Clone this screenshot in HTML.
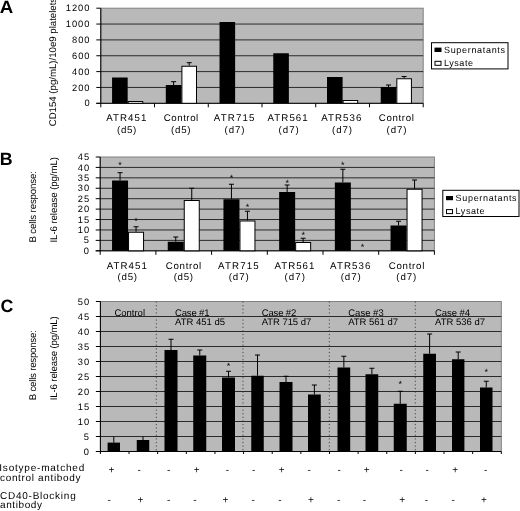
<!DOCTYPE html>
<html><head><meta charset="utf-8"><title>Figure</title>
<style>
html,body{margin:0;padding:0;background:#fff;}
svg{display:block;will-change:transform;text-rendering:geometricPrecision;font-family:"Liberation Sans", Arial, sans-serif;fill:#000;}
</style></head>
<body>
<svg width="520" height="511" viewBox="0 0 520 511">
<rect x="0" y="0" width="520" height="511" fill="#fff"/>
<rect x="100.80" y="8.20" width="322.40" height="95.10" fill="#b9b9b9" stroke="#808080" stroke-width="1"/>
<line x1="100.80" y1="87.45" x2="423.20" y2="87.45" stroke="#111" stroke-width="0.85"/>
<line x1="100.80" y1="71.60" x2="423.20" y2="71.60" stroke="#111" stroke-width="0.85"/>
<line x1="100.80" y1="55.75" x2="423.20" y2="55.75" stroke="#111" stroke-width="0.85"/>
<line x1="100.80" y1="39.90" x2="423.20" y2="39.90" stroke="#111" stroke-width="0.85"/>
<line x1="100.80" y1="24.05" x2="423.20" y2="24.05" stroke="#111" stroke-width="0.85"/>
<line x1="96.30" y1="103.30" x2="100.80" y2="103.30" stroke="#000" stroke-width="1"/>
<line x1="96.30" y1="87.45" x2="100.80" y2="87.45" stroke="#000" stroke-width="1"/>
<line x1="96.30" y1="71.60" x2="100.80" y2="71.60" stroke="#000" stroke-width="1"/>
<line x1="96.30" y1="55.75" x2="100.80" y2="55.75" stroke="#000" stroke-width="1"/>
<line x1="96.30" y1="39.90" x2="100.80" y2="39.90" stroke="#000" stroke-width="1"/>
<line x1="96.30" y1="24.05" x2="100.80" y2="24.05" stroke="#000" stroke-width="1"/>
<line x1="96.30" y1="8.20" x2="100.80" y2="8.20" stroke="#000" stroke-width="1"/>
<line x1="100.80" y1="8.20" x2="100.80" y2="103.30" stroke="#000" stroke-width="1"/>
<line x1="96.30" y1="103.30" x2="423.20" y2="103.30" stroke="#000" stroke-width="1"/>
<text x="84.40" y="106.40" font-size="9.3" text-anchor="start">0</text>
<text x="72.10" y="90.55" font-size="9.3" text-anchor="start" textLength="17.30" lengthAdjust="spacing">200</text>
<text x="72.10" y="74.70" font-size="9.3" text-anchor="start" textLength="17.30" lengthAdjust="spacing">400</text>
<text x="72.10" y="58.85" font-size="9.3" text-anchor="start" textLength="17.30" lengthAdjust="spacing">600</text>
<text x="72.10" y="43.00" font-size="9.3" text-anchor="start" textLength="17.30" lengthAdjust="spacing">800</text>
<text x="65.80" y="27.15" font-size="9.3" text-anchor="start" textLength="23.60" lengthAdjust="spacing">1000</text>
<text x="65.80" y="11.30" font-size="9.3" text-anchor="start" textLength="23.60" lengthAdjust="spacing">1200</text>
<line x1="100.80" y1="103.30" x2="100.80" y2="107.30" stroke="#000" stroke-width="1"/>
<line x1="154.53" y1="103.30" x2="154.53" y2="107.30" stroke="#000" stroke-width="1"/>
<line x1="208.27" y1="103.30" x2="208.27" y2="107.30" stroke="#000" stroke-width="1"/>
<line x1="262.00" y1="103.30" x2="262.00" y2="107.30" stroke="#000" stroke-width="1"/>
<line x1="315.73" y1="103.30" x2="315.73" y2="107.30" stroke="#000" stroke-width="1"/>
<line x1="369.47" y1="103.30" x2="369.47" y2="107.30" stroke="#000" stroke-width="1"/>
<line x1="423.20" y1="103.30" x2="423.20" y2="107.30" stroke="#000" stroke-width="1"/>
<rect x="112.07" y="77.50" width="15.60" height="25.80" fill="#000"/>
<rect x="128.17" y="101.50" width="14.60" height="1.80" fill="#fff" stroke="#000" stroke-width="1"/>
<line x1="173.60" y1="81.70" x2="173.60" y2="85.00" stroke="#000" stroke-width="1"/>
<line x1="171.10" y1="81.70" x2="176.10" y2="81.70" stroke="#000" stroke-width="1"/>
<rect x="165.80" y="85.00" width="15.60" height="18.30" fill="#000"/>
<line x1="189.20" y1="62.70" x2="189.20" y2="65.75" stroke="#000" stroke-width="1"/>
<line x1="186.70" y1="62.70" x2="191.70" y2="62.70" stroke="#000" stroke-width="1"/>
<rect x="181.90" y="66.25" width="14.60" height="37.05" fill="#fff" stroke="#000" stroke-width="1"/>
<rect x="219.53" y="22.00" width="15.60" height="81.30" fill="#000"/>
<rect x="273.27" y="53.25" width="15.60" height="50.05" fill="#000"/>
<rect x="327.00" y="77.00" width="15.60" height="26.30" fill="#000"/>
<rect x="343.10" y="100.50" width="14.60" height="2.80" fill="#fff" stroke="#000" stroke-width="1"/>
<line x1="388.53" y1="85.00" x2="388.53" y2="87.00" stroke="#000" stroke-width="1"/>
<line x1="386.03" y1="85.00" x2="391.03" y2="85.00" stroke="#000" stroke-width="1"/>
<rect x="380.73" y="87.00" width="15.60" height="16.30" fill="#000"/>
<line x1="404.13" y1="76.50" x2="404.13" y2="78.25" stroke="#000" stroke-width="1"/>
<line x1="401.63" y1="76.50" x2="406.63" y2="76.50" stroke="#000" stroke-width="1"/>
<rect x="396.83" y="78.75" width="14.60" height="24.55" fill="#fff" stroke="#000" stroke-width="1"/>
<text x="106.30" y="121.20" font-size="9.7" text-anchor="start" textLength="40.00" lengthAdjust="spacing">ATR451</text>
<text x="117.00" y="132.90" font-size="9.7" text-anchor="start" textLength="19.30" lengthAdjust="spacing">(d5)</text>
<text x="163.80" y="121.20" font-size="9.7" text-anchor="start" textLength="34.40" lengthAdjust="spacing">Control</text>
<text x="171.00" y="132.90" font-size="9.7" text-anchor="start" textLength="19.50" lengthAdjust="spacing">(d5)</text>
<text x="213.80" y="121.20" font-size="9.7" text-anchor="start" textLength="40.70" lengthAdjust="spacing">ATR715</text>
<text x="224.50" y="132.90" font-size="9.7" text-anchor="start" textLength="20.00" lengthAdjust="spacing">(d7)</text>
<text x="267.50" y="121.20" font-size="9.7" text-anchor="start" textLength="40.20" lengthAdjust="spacing">ATR561</text>
<text x="278.60" y="132.90" font-size="9.7" text-anchor="start" textLength="20.10" lengthAdjust="spacing">(d7)</text>
<text x="321.30" y="121.20" font-size="9.7" text-anchor="start" textLength="40.00" lengthAdjust="spacing">ATR536</text>
<text x="332.00" y="132.90" font-size="9.7" text-anchor="start" textLength="20.00" lengthAdjust="spacing">(d7)</text>
<text x="378.80" y="121.20" font-size="9.7" text-anchor="start" textLength="35.00" lengthAdjust="spacing">Control</text>
<text x="386.50" y="132.90" font-size="9.7" text-anchor="start" textLength="20.00" lengthAdjust="spacing">(d7)</text>
<rect x="431.50" y="42.70" width="76.50" height="26.20" fill="#fff" stroke="#000" stroke-width="1"/>
<rect x="434.50" y="47.60" width="7.00" height="4.40" fill="#000"/>
<rect x="435.00" y="61.30" width="6.00" height="4.00" fill="#fff" stroke="#000" stroke-width="1"/>
<text x="444.00" y="52.80" font-size="9.0" text-anchor="start" textLength="61.00" lengthAdjust="spacing">Supernatants</text>
<text x="444.00" y="65.70" font-size="9.0" text-anchor="start" textLength="29.00" lengthAdjust="spacing">Lysate</text>
<text transform="translate(55.80,126.30) rotate(-90)" font-size="9.7" textLength="128.50" lengthAdjust="spacing">CD154 (pg/mL)/10e9 platelets</text>
<text x="-0.20" y="12.60" font-size="17.8" text-anchor="start" textLength="13.50" lengthAdjust="spacingAndGlyphs" font-weight="bold">A</text>
<rect x="100.20" y="157.00" width="334.20" height="93.80" fill="#b9b9b9" stroke="#808080" stroke-width="1"/>
<line x1="100.20" y1="240.38" x2="434.40" y2="240.38" stroke="#111" stroke-width="0.85"/>
<line x1="100.20" y1="229.96" x2="434.40" y2="229.96" stroke="#111" stroke-width="0.85"/>
<line x1="100.20" y1="219.53" x2="434.40" y2="219.53" stroke="#111" stroke-width="0.85"/>
<line x1="100.20" y1="209.11" x2="434.40" y2="209.11" stroke="#111" stroke-width="0.85"/>
<line x1="100.20" y1="198.69" x2="434.40" y2="198.69" stroke="#111" stroke-width="0.85"/>
<line x1="100.20" y1="188.27" x2="434.40" y2="188.27" stroke="#111" stroke-width="0.85"/>
<line x1="100.20" y1="177.84" x2="434.40" y2="177.84" stroke="#111" stroke-width="0.85"/>
<line x1="100.20" y1="167.42" x2="434.40" y2="167.42" stroke="#111" stroke-width="0.85"/>
<line x1="95.70" y1="250.80" x2="100.20" y2="250.80" stroke="#000" stroke-width="1"/>
<line x1="95.70" y1="240.38" x2="100.20" y2="240.38" stroke="#000" stroke-width="1"/>
<line x1="95.70" y1="229.96" x2="100.20" y2="229.96" stroke="#000" stroke-width="1"/>
<line x1="95.70" y1="219.53" x2="100.20" y2="219.53" stroke="#000" stroke-width="1"/>
<line x1="95.70" y1="209.11" x2="100.20" y2="209.11" stroke="#000" stroke-width="1"/>
<line x1="95.70" y1="198.69" x2="100.20" y2="198.69" stroke="#000" stroke-width="1"/>
<line x1="95.70" y1="188.27" x2="100.20" y2="188.27" stroke="#000" stroke-width="1"/>
<line x1="95.70" y1="177.84" x2="100.20" y2="177.84" stroke="#000" stroke-width="1"/>
<line x1="95.70" y1="167.42" x2="100.20" y2="167.42" stroke="#000" stroke-width="1"/>
<line x1="95.70" y1="157.00" x2="100.20" y2="157.00" stroke="#000" stroke-width="1"/>
<line x1="100.20" y1="157.00" x2="100.20" y2="250.80" stroke="#000" stroke-width="1"/>
<line x1="95.70" y1="250.80" x2="434.40" y2="250.80" stroke="#000" stroke-width="1"/>
<text x="83.70" y="253.90" font-size="9.3" text-anchor="start">0</text>
<text x="83.70" y="243.48" font-size="9.3" text-anchor="start">5</text>
<text x="77.80" y="233.06" font-size="9.3" text-anchor="start" textLength="11.40" lengthAdjust="spacing">10</text>
<text x="77.80" y="222.63" font-size="9.3" text-anchor="start" textLength="11.40" lengthAdjust="spacing">15</text>
<text x="77.80" y="212.21" font-size="9.3" text-anchor="start" textLength="11.40" lengthAdjust="spacing">20</text>
<text x="77.80" y="201.79" font-size="9.3" text-anchor="start" textLength="11.40" lengthAdjust="spacing">25</text>
<text x="77.80" y="191.37" font-size="9.3" text-anchor="start" textLength="11.40" lengthAdjust="spacing">30</text>
<text x="77.80" y="180.94" font-size="9.3" text-anchor="start" textLength="11.40" lengthAdjust="spacing">35</text>
<text x="77.80" y="170.52" font-size="9.3" text-anchor="start" textLength="11.40" lengthAdjust="spacing">40</text>
<text x="77.80" y="160.10" font-size="9.3" text-anchor="start" textLength="11.40" lengthAdjust="spacing">45</text>
<line x1="100.20" y1="250.80" x2="100.20" y2="254.80" stroke="#000" stroke-width="1"/>
<line x1="155.90" y1="250.80" x2="155.90" y2="254.80" stroke="#000" stroke-width="1"/>
<line x1="211.60" y1="250.80" x2="211.60" y2="254.80" stroke="#000" stroke-width="1"/>
<line x1="267.30" y1="250.80" x2="267.30" y2="254.80" stroke="#000" stroke-width="1"/>
<line x1="323.00" y1="250.80" x2="323.00" y2="254.80" stroke="#000" stroke-width="1"/>
<line x1="378.70" y1="250.80" x2="378.70" y2="254.80" stroke="#000" stroke-width="1"/>
<line x1="434.40" y1="250.80" x2="434.40" y2="254.80" stroke="#000" stroke-width="1"/>
<line x1="120.05" y1="172.70" x2="120.05" y2="180.50" stroke="#000" stroke-width="1"/>
<line x1="117.55" y1="172.70" x2="122.55" y2="172.70" stroke="#000" stroke-width="1"/>
<rect x="112.05" y="180.50" width="16.00" height="70.30" fill="#000"/>
<line x1="136.05" y1="226.75" x2="136.05" y2="231.75" stroke="#000" stroke-width="1"/>
<line x1="133.55" y1="226.75" x2="138.55" y2="226.75" stroke="#000" stroke-width="1"/>
<rect x="128.55" y="232.25" width="15.00" height="18.55" fill="#fff" stroke="#000" stroke-width="1"/>
<text x="120.05" y="167.75" font-size="9" text-anchor="middle">*</text>
<text x="136.05" y="223.55" font-size="9" text-anchor="middle">*</text>
<line x1="175.75" y1="237.00" x2="175.75" y2="241.75" stroke="#000" stroke-width="1"/>
<line x1="173.25" y1="237.00" x2="178.25" y2="237.00" stroke="#000" stroke-width="1"/>
<rect x="167.75" y="241.75" width="16.00" height="9.05" fill="#000"/>
<line x1="191.75" y1="188.25" x2="191.75" y2="200.00" stroke="#000" stroke-width="1"/>
<line x1="189.25" y1="188.25" x2="194.25" y2="188.25" stroke="#000" stroke-width="1"/>
<rect x="184.25" y="200.50" width="15.00" height="50.30" fill="#fff" stroke="#000" stroke-width="1"/>
<line x1="231.45" y1="184.25" x2="231.45" y2="199.25" stroke="#000" stroke-width="1"/>
<line x1="228.95" y1="184.25" x2="233.95" y2="184.25" stroke="#000" stroke-width="1"/>
<rect x="223.45" y="199.25" width="16.00" height="51.55" fill="#000"/>
<line x1="247.45" y1="211.25" x2="247.45" y2="220.50" stroke="#000" stroke-width="1"/>
<line x1="244.95" y1="211.25" x2="249.95" y2="211.25" stroke="#000" stroke-width="1"/>
<rect x="239.95" y="221.00" width="15.00" height="29.80" fill="#fff" stroke="#000" stroke-width="1"/>
<text x="231.45" y="180.75" font-size="9" text-anchor="middle">*</text>
<text x="247.45" y="209.75" font-size="9" text-anchor="middle">*</text>
<line x1="287.15" y1="185.00" x2="287.15" y2="192.00" stroke="#000" stroke-width="1"/>
<line x1="284.65" y1="185.00" x2="289.65" y2="185.00" stroke="#000" stroke-width="1"/>
<rect x="279.15" y="192.00" width="16.00" height="58.80" fill="#000"/>
<line x1="303.15" y1="238.25" x2="303.15" y2="242.00" stroke="#000" stroke-width="1"/>
<line x1="300.65" y1="238.25" x2="305.65" y2="238.25" stroke="#000" stroke-width="1"/>
<rect x="295.65" y="242.50" width="15.00" height="8.30" fill="#fff" stroke="#000" stroke-width="1"/>
<text x="287.15" y="186.05" font-size="9" text-anchor="middle">*</text>
<text x="303.15" y="237.75" font-size="9" text-anchor="middle">*</text>
<line x1="342.85" y1="169.25" x2="342.85" y2="182.50" stroke="#000" stroke-width="1"/>
<line x1="340.35" y1="169.25" x2="345.35" y2="169.25" stroke="#000" stroke-width="1"/>
<rect x="334.85" y="182.50" width="16.00" height="68.30" fill="#000"/>
<text x="342.85" y="167.75" font-size="9" text-anchor="middle">*</text>
<text x="362.55" y="249.55" font-size="9" text-anchor="middle">*</text>
<line x1="398.55" y1="221.25" x2="398.55" y2="225.50" stroke="#000" stroke-width="1"/>
<line x1="396.05" y1="221.25" x2="401.05" y2="221.25" stroke="#000" stroke-width="1"/>
<rect x="390.55" y="225.50" width="16.00" height="25.30" fill="#000"/>
<line x1="414.55" y1="180.00" x2="414.55" y2="188.75" stroke="#000" stroke-width="1"/>
<line x1="412.05" y1="180.00" x2="417.05" y2="180.00" stroke="#000" stroke-width="1"/>
<rect x="407.05" y="189.25" width="15.00" height="61.55" fill="#fff" stroke="#000" stroke-width="1"/>
<text x="106.70" y="268.80" font-size="9.7" text-anchor="start" textLength="40.10" lengthAdjust="spacing">ATR451</text>
<text x="117.50" y="280.20" font-size="9.7" text-anchor="start" textLength="19.50" lengthAdjust="spacing">(d5)</text>
<text x="165.80" y="268.80" font-size="9.7" text-anchor="start" textLength="35.40" lengthAdjust="spacing">Control</text>
<text x="173.70" y="280.20" font-size="9.7" text-anchor="start" textLength="19.30" lengthAdjust="spacing">(d5)</text>
<text x="218.00" y="268.80" font-size="9.7" text-anchor="start" textLength="40.70" lengthAdjust="spacing">ATR715</text>
<text x="228.70" y="280.20" font-size="9.7" text-anchor="start" textLength="20.00" lengthAdjust="spacing">(d7)</text>
<text x="274.50" y="268.80" font-size="9.7" text-anchor="start" textLength="39.80" lengthAdjust="spacing">ATR561</text>
<text x="284.50" y="280.20" font-size="9.7" text-anchor="start" textLength="20.50" lengthAdjust="spacing">(d7)</text>
<text x="330.00" y="268.80" font-size="9.7" text-anchor="start" textLength="40.50" lengthAdjust="spacing">ATR536</text>
<text x="340.70" y="280.20" font-size="9.7" text-anchor="start" textLength="20.00" lengthAdjust="spacing">(d7)</text>
<text x="388.70" y="268.80" font-size="9.7" text-anchor="start" textLength="35.60" lengthAdjust="spacing">Control</text>
<text x="396.30" y="280.20" font-size="9.7" text-anchor="start" textLength="20.00" lengthAdjust="spacing">(d7)</text>
<rect x="442.80" y="190.30" width="76.20" height="26.20" fill="#fff" stroke="#000" stroke-width="1"/>
<rect x="446.00" y="196.00" width="7.00" height="4.20" fill="#000"/>
<rect x="446.50" y="209.60" width="6.00" height="4.00" fill="#fff" stroke="#000" stroke-width="1"/>
<text x="455.60" y="200.80" font-size="9.0" text-anchor="start" textLength="61.00" lengthAdjust="spacing">Supernatants</text>
<text x="455.60" y="213.70" font-size="9.0" text-anchor="start" textLength="29.00" lengthAdjust="spacing">Lysate</text>
<text transform="translate(35.60,242.50) rotate(-90)" font-size="9.7" textLength="71.50" lengthAdjust="spacing">B cells response:</text>
<text transform="translate(57.30,242.50) rotate(-90)" font-size="9.7" textLength="85.50" lengthAdjust="spacing">IL-6 release (pg/mL)</text>
<text x="-0.30" y="164.70" font-size="17.8" text-anchor="start" font-weight="bold">B</text>
<rect x="100.40" y="301.50" width="400.90" height="150.00" fill="#b9b9b9" stroke="#808080" stroke-width="1"/>
<line x1="100.40" y1="436.50" x2="501.30" y2="436.50" stroke="#111" stroke-width="0.85"/>
<line x1="100.40" y1="421.50" x2="501.30" y2="421.50" stroke="#111" stroke-width="0.85"/>
<line x1="100.40" y1="406.50" x2="501.30" y2="406.50" stroke="#111" stroke-width="0.85"/>
<line x1="100.40" y1="391.50" x2="501.30" y2="391.50" stroke="#111" stroke-width="0.85"/>
<line x1="100.40" y1="376.50" x2="501.30" y2="376.50" stroke="#111" stroke-width="0.85"/>
<line x1="100.40" y1="361.50" x2="501.30" y2="361.50" stroke="#111" stroke-width="0.85"/>
<line x1="100.40" y1="346.50" x2="501.30" y2="346.50" stroke="#111" stroke-width="0.85"/>
<line x1="100.40" y1="331.50" x2="501.30" y2="331.50" stroke="#111" stroke-width="0.85"/>
<line x1="100.40" y1="316.50" x2="501.30" y2="316.50" stroke="#111" stroke-width="0.85"/>
<line x1="95.90" y1="451.50" x2="100.40" y2="451.50" stroke="#000" stroke-width="1"/>
<line x1="95.90" y1="436.50" x2="100.40" y2="436.50" stroke="#000" stroke-width="1"/>
<line x1="95.90" y1="421.50" x2="100.40" y2="421.50" stroke="#000" stroke-width="1"/>
<line x1="95.90" y1="406.50" x2="100.40" y2="406.50" stroke="#000" stroke-width="1"/>
<line x1="95.90" y1="391.50" x2="100.40" y2="391.50" stroke="#000" stroke-width="1"/>
<line x1="95.90" y1="376.50" x2="100.40" y2="376.50" stroke="#000" stroke-width="1"/>
<line x1="95.90" y1="361.50" x2="100.40" y2="361.50" stroke="#000" stroke-width="1"/>
<line x1="95.90" y1="346.50" x2="100.40" y2="346.50" stroke="#000" stroke-width="1"/>
<line x1="95.90" y1="331.50" x2="100.40" y2="331.50" stroke="#000" stroke-width="1"/>
<line x1="95.90" y1="316.50" x2="100.40" y2="316.50" stroke="#000" stroke-width="1"/>
<line x1="95.90" y1="301.50" x2="100.40" y2="301.50" stroke="#000" stroke-width="1"/>
<line x1="100.40" y1="301.50" x2="100.40" y2="451.50" stroke="#000" stroke-width="1"/>
<line x1="95.90" y1="451.50" x2="501.30" y2="451.50" stroke="#000" stroke-width="1"/>
<text x="83.70" y="454.60" font-size="9.3" text-anchor="start">0</text>
<text x="83.70" y="439.60" font-size="9.3" text-anchor="start">5</text>
<text x="77.80" y="424.60" font-size="9.3" text-anchor="start" textLength="11.40" lengthAdjust="spacing">10</text>
<text x="77.80" y="409.60" font-size="9.3" text-anchor="start" textLength="11.40" lengthAdjust="spacing">15</text>
<text x="77.80" y="394.60" font-size="9.3" text-anchor="start" textLength="11.40" lengthAdjust="spacing">20</text>
<text x="77.80" y="379.60" font-size="9.3" text-anchor="start" textLength="11.40" lengthAdjust="spacing">25</text>
<text x="77.80" y="364.60" font-size="9.3" text-anchor="start" textLength="11.40" lengthAdjust="spacing">30</text>
<text x="77.80" y="349.60" font-size="9.3" text-anchor="start" textLength="11.40" lengthAdjust="spacing">35</text>
<text x="77.80" y="334.60" font-size="9.3" text-anchor="start" textLength="11.40" lengthAdjust="spacing">40</text>
<text x="77.80" y="319.60" font-size="9.3" text-anchor="start" textLength="11.40" lengthAdjust="spacing">45</text>
<text x="77.80" y="304.60" font-size="9.3" text-anchor="start" textLength="11.40" lengthAdjust="spacing">50</text>
<line x1="100.40" y1="451.50" x2="100.40" y2="454.00" stroke="#000" stroke-width="1"/>
<line x1="129.04" y1="451.50" x2="129.04" y2="454.00" stroke="#000" stroke-width="1"/>
<line x1="157.67" y1="451.50" x2="157.67" y2="454.00" stroke="#000" stroke-width="1"/>
<line x1="186.31" y1="451.50" x2="186.31" y2="454.00" stroke="#000" stroke-width="1"/>
<line x1="214.94" y1="451.50" x2="214.94" y2="454.00" stroke="#000" stroke-width="1"/>
<line x1="243.58" y1="451.50" x2="243.58" y2="454.00" stroke="#000" stroke-width="1"/>
<line x1="272.21" y1="451.50" x2="272.21" y2="454.00" stroke="#000" stroke-width="1"/>
<line x1="300.85" y1="451.50" x2="300.85" y2="454.00" stroke="#000" stroke-width="1"/>
<line x1="329.49" y1="451.50" x2="329.49" y2="454.00" stroke="#000" stroke-width="1"/>
<line x1="358.12" y1="451.50" x2="358.12" y2="454.00" stroke="#000" stroke-width="1"/>
<line x1="386.76" y1="451.50" x2="386.76" y2="454.00" stroke="#000" stroke-width="1"/>
<line x1="415.39" y1="451.50" x2="415.39" y2="454.00" stroke="#000" stroke-width="1"/>
<line x1="444.03" y1="451.50" x2="444.03" y2="454.00" stroke="#000" stroke-width="1"/>
<line x1="472.66" y1="451.50" x2="472.66" y2="454.00" stroke="#000" stroke-width="1"/>
<line x1="501.30" y1="451.50" x2="501.30" y2="454.00" stroke="#000" stroke-width="1"/>
<line x1="156.3" y1="301.5" x2="156.3" y2="451.5" stroke="#333" stroke-width="1" stroke-dasharray="1.2,2.4" opacity="0.85"/>
<line x1="243.0" y1="301.5" x2="243.0" y2="451.5" stroke="#333" stroke-width="1" stroke-dasharray="1.2,2.4" opacity="0.85"/>
<line x1="329.3" y1="301.5" x2="329.3" y2="451.5" stroke="#333" stroke-width="1" stroke-dasharray="1.2,2.4" opacity="0.85"/>
<line x1="415.3" y1="301.5" x2="415.3" y2="451.5" stroke="#333" stroke-width="1" stroke-dasharray="1.2,2.4" opacity="0.85"/>
<line x1="113.80" y1="436.60" x2="113.80" y2="442.60" stroke="#000" stroke-width="1"/>
<rect x="107.60" y="442.60" width="12.40" height="8.90" fill="#000"/>
<line x1="143.00" y1="436.60" x2="143.00" y2="440.00" stroke="#000" stroke-width="1"/>
<rect x="136.75" y="440.00" width="12.50" height="11.50" fill="#000"/>
<line x1="171.00" y1="339.25" x2="171.00" y2="350.00" stroke="#000" stroke-width="1"/>
<line x1="168.50" y1="339.25" x2="173.50" y2="339.25" stroke="#000" stroke-width="1"/>
<rect x="164.50" y="350.00" width="13.00" height="101.50" fill="#000"/>
<line x1="199.75" y1="350.00" x2="199.75" y2="355.50" stroke="#000" stroke-width="1"/>
<line x1="197.25" y1="350.00" x2="202.25" y2="350.00" stroke="#000" stroke-width="1"/>
<rect x="193.25" y="355.50" width="13.00" height="96.00" fill="#000"/>
<line x1="228.50" y1="371.25" x2="228.50" y2="377.50" stroke="#000" stroke-width="1"/>
<line x1="226.00" y1="371.25" x2="231.00" y2="371.25" stroke="#000" stroke-width="1"/>
<rect x="222.00" y="377.50" width="13.00" height="74.00" fill="#000"/>
<text x="228.50" y="368.55" font-size="9" text-anchor="middle">*</text>
<line x1="257.50" y1="355.00" x2="257.50" y2="375.75" stroke="#000" stroke-width="1"/>
<line x1="255.00" y1="355.00" x2="260.00" y2="355.00" stroke="#000" stroke-width="1"/>
<rect x="251.25" y="375.75" width="12.50" height="75.75" fill="#000"/>
<line x1="286.00" y1="376.25" x2="286.00" y2="382.00" stroke="#000" stroke-width="1"/>
<line x1="283.50" y1="376.25" x2="288.50" y2="376.25" stroke="#000" stroke-width="1"/>
<rect x="279.50" y="382.00" width="13.00" height="69.50" fill="#000"/>
<line x1="314.38" y1="385.00" x2="314.38" y2="394.50" stroke="#000" stroke-width="1"/>
<line x1="311.88" y1="385.00" x2="316.88" y2="385.00" stroke="#000" stroke-width="1"/>
<rect x="308.00" y="394.50" width="12.75" height="57.00" fill="#000"/>
<line x1="343.85" y1="356.25" x2="343.85" y2="367.50" stroke="#000" stroke-width="1"/>
<line x1="341.35" y1="356.25" x2="346.35" y2="356.25" stroke="#000" stroke-width="1"/>
<rect x="337.50" y="367.50" width="12.70" height="84.00" fill="#000"/>
<line x1="371.88" y1="368.25" x2="371.88" y2="374.25" stroke="#000" stroke-width="1"/>
<line x1="369.38" y1="368.25" x2="374.38" y2="368.25" stroke="#000" stroke-width="1"/>
<rect x="365.50" y="374.25" width="12.75" height="77.25" fill="#000"/>
<line x1="400.25" y1="391.25" x2="400.25" y2="403.75" stroke="#000" stroke-width="1"/>
<line x1="397.75" y1="391.25" x2="402.75" y2="391.25" stroke="#000" stroke-width="1"/>
<rect x="393.75" y="403.75" width="13.00" height="47.75" fill="#000"/>
<text x="400.25" y="387.30" font-size="9" text-anchor="middle">*</text>
<line x1="429.62" y1="334.00" x2="429.62" y2="353.75" stroke="#000" stroke-width="1"/>
<line x1="427.12" y1="334.00" x2="432.12" y2="334.00" stroke="#000" stroke-width="1"/>
<rect x="423.25" y="353.75" width="12.75" height="97.75" fill="#000"/>
<line x1="458.20" y1="352.00" x2="458.20" y2="359.25" stroke="#000" stroke-width="1"/>
<line x1="455.70" y1="352.00" x2="460.70" y2="352.00" stroke="#000" stroke-width="1"/>
<rect x="452.00" y="359.25" width="12.40" height="92.25" fill="#000"/>
<line x1="486.25" y1="381.25" x2="486.25" y2="387.50" stroke="#000" stroke-width="1"/>
<line x1="483.75" y1="381.25" x2="488.75" y2="381.25" stroke="#000" stroke-width="1"/>
<rect x="480.00" y="387.50" width="12.50" height="64.00" fill="#000"/>
<text x="486.25" y="375.30" font-size="9" text-anchor="middle">*</text>
<text x="114.50" y="316.30" font-size="9.5" text-anchor="start" textLength="30.50" lengthAdjust="spacing">Control</text>
<text x="175.00" y="316.30" font-size="9.5" text-anchor="start" textLength="34.50" lengthAdjust="spacing">Case #1</text>
<text x="175.00" y="324.60" font-size="9.5" text-anchor="start" textLength="50.00" lengthAdjust="spacing">ATR 451 d5</text>
<text x="261.70" y="316.30" font-size="9.5" text-anchor="start" textLength="34.50" lengthAdjust="spacing">Case #2</text>
<text x="261.70" y="324.60" font-size="9.5" text-anchor="start" textLength="49.50" lengthAdjust="spacing">ATR 715 d7</text>
<text x="348.20" y="316.30" font-size="9.5" text-anchor="start" textLength="35.50" lengthAdjust="spacing">Case #3</text>
<text x="348.20" y="324.60" font-size="9.5" text-anchor="start" textLength="49.80" lengthAdjust="spacing">ATR 561 d7</text>
<text x="435.00" y="316.30" font-size="9.5" text-anchor="start" textLength="35.00" lengthAdjust="spacing">Case #4</text>
<text x="435.00" y="324.60" font-size="9.5" text-anchor="start" textLength="50.00" lengthAdjust="spacing">ATR 536 d7</text>
<text transform="translate(35.60,400.20) rotate(-90)" font-size="9.7" textLength="70.00" lengthAdjust="spacing">B cells response:</text>
<text transform="translate(57.30,400.20) rotate(-90)" font-size="9.7" textLength="84.00" lengthAdjust="spacing">IL-6 release (pg/mL)</text>
<text x="0.40" y="311.50" font-size="17.8" text-anchor="start" font-weight="bold">C</text>
<text x="-0.70" y="471.30" font-size="10" text-anchor="start" textLength="84.90" lengthAdjust="spacing">Isotype-matched</text>
<text x="0.00" y="481.30" font-size="10" text-anchor="start" textLength="80.50" lengthAdjust="spacing">control antibody</text>
<text x="0.00" y="498.70" font-size="10" text-anchor="start" textLength="75.70" lengthAdjust="spacing">CD40-Blocking</text>
<text x="0.00" y="508.30" font-size="10" text-anchor="start" textLength="42.00" lengthAdjust="spacing">antibody</text>
<text x="111.45" y="473.10" font-size="10" text-anchor="middle">+</text>
<text x="139.25" y="473.00" font-size="10" text-anchor="middle">-</text>
<text x="168.75" y="473.00" font-size="10" text-anchor="middle">-</text>
<text x="196.70" y="473.10" font-size="10" text-anchor="middle">+</text>
<text x="227.50" y="473.00" font-size="10" text-anchor="middle">-</text>
<text x="253.75" y="473.00" font-size="10" text-anchor="middle">-</text>
<text x="281.70" y="473.10" font-size="10" text-anchor="middle">+</text>
<text x="309.25" y="473.00" font-size="10" text-anchor="middle">-</text>
<text x="339.25" y="473.00" font-size="10" text-anchor="middle">-</text>
<text x="366.70" y="473.10" font-size="10" text-anchor="middle">+</text>
<text x="401.25" y="473.00" font-size="10" text-anchor="middle">-</text>
<text x="427.25" y="473.00" font-size="10" text-anchor="middle">-</text>
<text x="455.20" y="473.10" font-size="10" text-anchor="middle">+</text>
<text x="485.75" y="473.00" font-size="10" text-anchor="middle">-</text>
<text x="109.25" y="502.50" font-size="10" text-anchor="middle">-</text>
<text x="140.45" y="502.60" font-size="10" text-anchor="middle">+</text>
<text x="168.75" y="502.50" font-size="10" text-anchor="middle">-</text>
<text x="195.00" y="502.50" font-size="10" text-anchor="middle">-</text>
<text x="225.45" y="502.60" font-size="10" text-anchor="middle">+</text>
<text x="253.25" y="502.50" font-size="10" text-anchor="middle">-</text>
<text x="280.00" y="502.50" font-size="10" text-anchor="middle">-</text>
<text x="310.95" y="502.60" font-size="10" text-anchor="middle">+</text>
<text x="338.75" y="502.50" font-size="10" text-anchor="middle">-</text>
<text x="364.50" y="502.50" font-size="10" text-anchor="middle">-</text>
<text x="402.20" y="502.60" font-size="10" text-anchor="middle">+</text>
<text x="426.50" y="502.50" font-size="10" text-anchor="middle">-</text>
<text x="453.25" y="502.50" font-size="10" text-anchor="middle">-</text>
<text x="483.95" y="502.60" font-size="10" text-anchor="middle">+</text>
</svg>
</body></html>
